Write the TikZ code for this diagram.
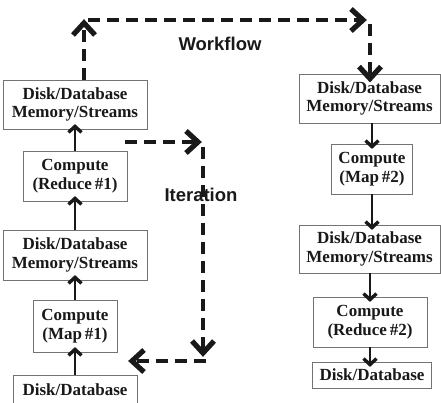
\documentclass[tikz,border=0pt]{standalone}
\usepackage{fontspec}
\setmainfont{Liberation Serif}
\newfontfamily\labelfont{Liberation Sans}
\usetikzlibrary{decorations.markings}

\begin{document}
\begin{tikzpicture}[x=1pt,y=-1pt,
  stage/.style={draw=black!55, line width=0.8pt, fill=white, inner sep=0pt,
    align=center, font=\fontsize{17}{18.5}\selectfont\bfseries, text=black!90},
  % open chevron head: stroke width, length, half width
  chevron/.style n args={3}{postaction={decorate, decoration={markings,
    mark=at position 1 with {\draw[solid, line width=#1, line join=miter, draw=black!90]
      (-#2,#3) -- (0pt,0pt) -- (-#2,-#3);}}}},
  flow/.style={line width=2.6pt, draw=black!90, chevron={3.4pt}{6pt}{6.5pt}},
  loop/.style={line width=4.2pt, draw=black!90, dash pattern=on 12pt off 7pt,
    chevron={5.2pt}{12pt}{11pt}},
  tag/.style={font=\labelfont\fontsize{18.5}{20}\selectfont\bfseries, text=black!90}]

\useasboundingbox (0,0) rectangle (441,402);

% first job (bottom to top)
\node[stage, minimum width=144pt, minimum height=49pt] (L1) at (75,104.5) {Disk/Database\\Memory/Streams};
\node[stage, minimum width=104pt, minimum height=50pt] (L2) at (75,176) {Compute\\(Reduce\,\#1)};
\node[stage, minimum width=144pt, minimum height=50pt] (L3) at (75,255) {Disk/Database\\Memory/Streams};
\node[stage, minimum width=84pt, minimum height=52pt] (L4) at (75,326) {Compute\\(Map\,\#1)};
\node[stage, minimum width=124pt, minimum height=30pt] (L5) at (75,390) {Disk/Database};

% second job (top to bottom)
\node[stage, minimum width=141pt, minimum height=49pt] (R1) at (369.5,98.5) {Disk/Database\\Memory/Streams};
\node[stage, minimum width=81pt, minimum height=50pt] (R2) at (372,169) {Compute\\(Map\,\#2)};
\node[stage, minimum width=141pt, minimum height=48pt] (R3) at (369.5,249) {Disk/Database\\Memory/Streams};
\node[stage, minimum width=114pt, minimum height=50pt] (R4) at (370,322) {Compute\\(Reduce\,\#2)};
\node[stage, minimum width=119pt, minimum height=26pt] (R5) at (372,375) {Disk/Database};

% data flow inside each job
\draw[flow] (L5.north) -- ([yshift=3pt]L4.south);
\draw[flow] (L4.north) -- ([yshift=3pt]L3.south);
\draw[flow] (L3.north) -- ([yshift=3pt]L2.south);
\draw[flow] (L2.north) -- ([yshift=3pt]L1.south);
\draw[flow] (R1.south -| R2) -- ([yshift=-3pt]R2.north);
\draw[flow] (R2.south) -- ([yshift=-3pt]R3.north -| R2);
\draw[flow] (R3.south -| R4) -- ([yshift=-3pt]R4.north);
\draw[flow] (R4.south) -- ([yshift=-3pt]R5.north -| R4);

% workflow link between the jobs
\coordinate (wa) at (84,23);
\coordinate (wb) at (88,20);
\coordinate (wc) at (363,20);
\coordinate (wd) at (370,24);
\draw[loop] (L1.north -| wa) -- (wa);
\draw[loop] (wb) -- (wc);
\draw[loop] (wd) -- ([yshift=-5pt]wd |- R1.north);
\node[tag] (wf) at (220,44) {Workflow};

% iteration loop of the first job
\coordinate (ia) at (125,142);
\coordinate (ib) at (198,142);
\coordinate (ic) at (203,147);
\coordinate (id) at (203,353);
\coordinate (ie) at (206,361);
\coordinate (ig) at (132,361);
\draw[loop] (ia) -- (ib);
\draw[loop] (ic) -- (id);
\draw[loop] (ie) -- (ig);
\node[tag] (it) at (201,195) {Iteration};
\end{tikzpicture}
\end{document}
